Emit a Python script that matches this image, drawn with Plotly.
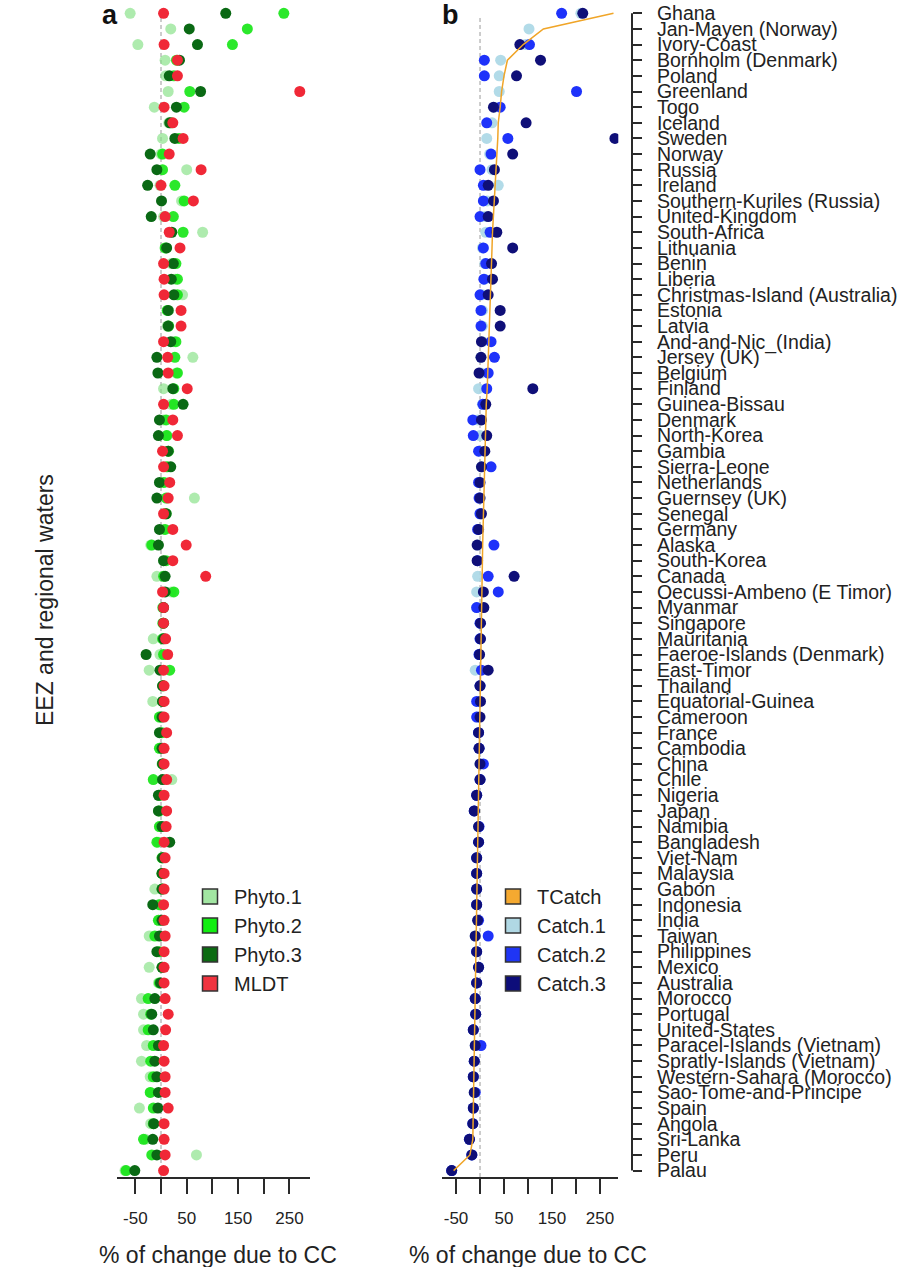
import plotly.graph_objects as go

# EEZ / regional waters, ordered by total catch change (top = largest)
countries = [
    "Ghana", "Jan-Mayen (Norway)", "Ivory-Coast", "Bornholm (Denmark)", "Poland",
    "Greenland", "Togo", "Iceland", "Sweden", "Norway", "Russia", "Ireland",
    "Southern-Kuriles (Russia)", "United-Kingdom", "South-Africa", "Lithuania",
    "Benin", "Liberia", "Christmas-Island (Australia)", "Estonia", "Latvia",
    "And-and-Nic_(India)", "Jersey (UK)", "Belgium", "Finland", "Guinea-Bissau",
    "Denmark", "North-Korea", "Gambia", "Sierra-Leone", "Netherlands",
    "Guernsey (UK)", "Senegal", "Germany", "Alaska", "South-Korea", "Canada",
    "Oecussi-Ambeno (E Timor)", "Myanmar", "Singapore", "Mauritania",
    "Faeroe-Islands (Denmark)", "East-Timor", "Thailand", "Equatorial-Guinea",
    "Cameroon", "France", "Cambodia", "China", "Chile", "Nigeria", "Japan",
    "Namibia", "Bangladesh", "Viet-Nam", "Malaysia", "Gabon", "Indonesia",
    "India", "Taiwan", "Philippines", "Mexico", "Australia", "Morocco",
    "Portugal", "United-States", "Paracel-Islands (Vietnam)",
    "Spratly-Islands (Vietnam)", "Western-Sahara (Morocco)",
    "Sao-Tome-and-Principe", "Spain", "Angola", "Sri-Lanka", "Peru", "Palau",
]

# Panel a: % change in phytoplankton production and mixed-layer depth
phyto1 = [-60, 19, -45, 8, 9, 14, -13, 15, 3, 0, 50, -2, 40, 5, 81, 10, 20, 28, 42, 15,
          12, 25, 62, 30, 5, 20, 5, 12, 15, 10, 8, 65, 8, 5, -20, 5, -8, 20, 3, 3,
          -15, -2, -23, 3, -16, -3, 0, -3, 2, 21, -3, -5, -3, -5, 2, 2, -12, -5, -5, -23,
          -5, -23, -5, -38, -34, -34, -28, -38, -21, -20, -42, -20, -30, 69, -70]
phyto2 = [239, 168, 139, 30, 25, 56, 45, 20, 35, 3, 3, 27, 45, 24, 43, 8, 29, 32, 32, 12,
          15, 29, 27, 32, 25, 25, 10, 11, 14, 12, 5, 10, 10, 8, -18, 10, 5, 25, 4, 4,
          3, 5, 17, 4, 3, -3, 2, -3, 3, -15, -3, -3, -3, -8, 2, 2, 2, -3, -5, -12,
          -3, 2, -3, -25, -20, -25, -15, -20, -15, -21, -15, -15, -34, -18, -68]
phyto3 = [126, 55, 71, 36, 16, 77, 30, 17, 27, -21, -8, -26, 1, -19, 21, 11, 24, 20, 25, 14,
          14, 19, -8, -6, 23, 43, -3, -5, 14, 19, -3, -8, 10, -3, -5, 5, 8, 8, 5, 5,
          5, -29, -2, 3, 3, 2, -3, 2, 3, 3, -5, -5, 2, 17, 3, 2, 2, -16, 2, -3,
          -8, 2, -1, -12, -18, -15, -5, -12, -8, -5, -6, -14, -16, -8, -51]
mldt = [5, None, 6, 32, 32, 270, 6, 23, 43, 16, 78, 0, 63, 8, 16, 37, 5, 6, 6, 39,
        39, 5, 13, 14, 51, 5, 23, 32, 3, 5, 17, 14, 5, 23, 49, 23, 87, 3, 5, 5,
        9, 13, 5, 6, 6, 6, 11, 6, 6, 11, 6, 11, 10, 6, 8, 6, 6, 5, 6, 8,
        6, 6, 6, 8, 14, 9, 5, 6, 8, 8, 14, 6, 6, 8, 5]

# Panel b: % change in catch (three scenarios) and total catch
catch1 = [210, 102, 95, 43, 40, 40, 30, 25, 14, 20, 25, 38, 15, 10, 12, 5, 10, 10, 5, 5,
          5, 5, 2, 2, -3, 5, -5, 0, 0, 3, -2, 0, 0, -3, -5, -5, -5, -7, -7, 0,
          0, -2, -10, 0, -5, -5, -3, -2, 0, 0, -7, -12, -3, -3, -7, -7, -7, -7, -5, -10,
          -7, -3, -7, -10, -9, -14, -10, -12, -14, -12, -14, -15, -22, -17, -59]
catch2 = [170, None, 103, 9, 9, 201, 42, 14, 58, 23, 0, 7, 7, 0, 21, 7, 12, 8, 0, 2,
          2, 23, 30, 17, 14, 6, -15, -14, -3, 23, -3, -2, 0, -5, 29, -5, 17, 38, -7, 0,
          0, -2, 3, 0, -7, -7, -3, -2, 7, 0, -7, -12, -2, -3, -7, -7, -7, -7, -3, 17,
          -7, -3, -7, -10, -9, -14, 2, -12, -14, -10, -14, -15, -22, -17, -59]
catch3 = [214, None, 83, 126, 76, None, 28, 96, 281, 68, 30, 17, 28, 17, 35, 68, 24, 26, 17, 42,
          42, 3, 2, -2, 110, 12, 3, 14, 10, 3, 0, 0, 3, -3, -6, -6, 71, 7, 8, 1,
          1, -1, 17, 0, 1, 0, -3, -2, 0, 0, -7, -12, -3, -3, -7, -7, -7, -7, -5, -10,
          -7, -3, -7, -10, -9, -14, -10, -12, -14, -12, -14, -15, -22, -17, -59]
tcatch = [278, 132, 90, 57, 50, 45, 42, 38, 37, 35, 33, 32, 30, 28, 26, 25, 24, 23, 22, 20,
          19, 18, 17, 16, 15, 13, 12, 11, 10, 9, 8, 7, 6.5, 6, 5.5, 5, 4.5, 4, 3.5, 3,
          2.5, 2, 1.5, 1, 0.5, 0, -0.5, -1, -1.5, -2, -2.5, -3, -3.5, -4, -4.5, -5, -5.5, -6, -6.5, -7,
          -7.5, -8, -8.5, -9, -9.5, -10, -10.5, -11, -11.5, -12, -13, -14, -15, -21, -55]

tick_vals = [-50, 0, 50, 100, 150, 200, 250]
tick_text = ["-50", "", "50", "", "150", "", "250"]

FONT = "Liberation Sans, Arial, Helvetica, sans-serif"
W, H = 914, 1267
n = len(countries)

col = {
    "Phyto.1": "rgba(130,225,130,0.65)",
    "Phyto.2": "rgba(20,230,20,0.9)",
    "Phyto.3": "rgb(10,105,20)",
    "MLDT": "rgb(240,40,55)",
    "TCatch": "rgb(240,165,40)",
    "Catch.1": "rgba(170,215,230,0.9)",
    "Catch.2": "rgb(30,50,250)",
    "Catch.3": "rgb(15,15,120)",
}
legend_fill = {
    "Phyto.1": "#a2e6a2", "Phyto.2": "#11ee11", "Phyto.3": "#0b6b12", "MLDT": "#f0333f",
    "TCatch": "#f5a930", "Catch.1": "#b0d8e4", "Catch.2": "#1f35f5", "Catch.3": "#0d0d7a",
}

fig = go.Figure()

# --- panel a: points
for name, vals in [("Phyto.1", phyto1), ("Phyto.2", phyto2), ("Phyto.3", phyto3), ("MLDT", mldt)]:
    fig.add_trace(go.Scatter(x=vals, y=countries, mode="markers", xaxis="x", yaxis="y",
                             marker=dict(size=11, color=col[name], line=dict(width=0)),
                             showlegend=False, hoverinfo="x+y", name=name))

# --- panel b: points and total-catch line
for name, vals in [("Catch.1", catch1), ("Catch.2", catch2), ("Catch.3", catch3)]:
    fig.add_trace(go.Scatter(x=vals, y=countries, mode="markers", xaxis="x2", yaxis="y",
                             marker=dict(size=11, color=col[name], line=dict(width=0)),
                             showlegend=False, hoverinfo="x+y", name=name))
fig.add_trace(go.Scatter(x=tcatch, y=countries, mode="lines", xaxis="x2", yaxis="y",
                         line=dict(color=col["TCatch"], width=1.5),
                         showlegend=False, name="TCatch"))

# --- legend entries (square keys)
for name in ["Phyto.1", "Phyto.2", "Phyto.3", "MLDT"]:
    fig.add_trace(go.Scatter(x=[None], y=[None], mode="markers", xaxis="x", yaxis="y",
                             marker=dict(symbol="square", size=15, color=legend_fill[name],
                                         line=dict(width=1.5, color="#333")),
                             name=name, legend="legend"))
for name in ["TCatch", "Catch.1", "Catch.2", "Catch.3"]:
    fig.add_trace(go.Scatter(x=[None], y=[None], mode="markers", xaxis="x2", yaxis="y",
                             marker=dict(symbol="square", size=15, color=legend_fill[name],
                                         line=dict(width=1.5, color="#333")),
                             name=name, legend="legend2"))

# geometry (pixels)
top_px, bot_px = 5, 1177
first_row_px, last_row_px = 13.3, 1170.6
row_h = (last_row_px - first_row_px) / (n - 1)
y_range = [n - 1 + (bot_px - last_row_px) / row_h, -(first_row_px - top_px) / row_h]

axis_common = dict(showline=True, linecolor="#2a2a2a", linewidth=1.5, ticks="outside",
                   ticklen=15, tickwidth=1.5, tickcolor="#2a2a2a", tickvals=tick_vals,
                   ticktext=tick_text, showgrid=False, zeroline=False,
                   tickfont=dict(size=17, color="#222", family=FONT),
                   ticklabelstandoff=10, anchor="y")

legend_common = dict(xanchor="left", yanchor="top", font=dict(size=20, family=FONT, color="#222"),
                     bgcolor="rgba(0,0,0,0)", tracegroupgap=0, itemsizing="trace", itemwidth=38)

fig.update_layout(
    width=W, height=H,
    margin=dict(l=0, r=0, t=top_px, b=H - bot_px, autoexpand=False),
    paper_bgcolor="white", plot_bgcolor="white",
    font=dict(family=FONT, color="#222"),
    xaxis=dict(domain=[117 / W, 310 / W], range=[-85.6, 289.9], **axis_common),
    xaxis2=dict(domain=[441.7 / W, 618.3 / W], range=[-79.8, 288], **axis_common),
    yaxis=dict(type="category", categoryorder="array", categoryarray=countries,
               tickmode="array", tickvals=countries, ticktext=countries,
               range=y_range, side="right", anchor="free", position=632 / W,
               showline=False, ticks="outside", ticklen=9, tickwidth=1.5,
               tickcolor="#2a2a2a", showgrid=False, zeroline=False,
               tickfont=dict(size=19.5, color="#222", family=FONT),
               ticklabelstandoff=11, automargin=False),
    legend=dict(x=186 / W, y=(bot_px - 877) / (bot_px - top_px), **legend_common),
    legend2=dict(x=489 / W, y=(bot_px - 877) / (bot_px - top_px), **legend_common),
    showlegend=True,
)

# y axis line from first to last category, dashed zero references
shapes = [dict(type="line", xref="paper", yref="y", x0=632 / W, x1=632 / W,
               y0=countries[0], y1=countries[-1], line=dict(color="#2a2a2a", width=2))]
for xr in ["x", "x2"]:
    shapes.append(dict(type="line", xref=xr, yref="y", x0=0, x1=0, y0=0.3, y1=y_range[0],
                       line=dict(color="#9a9a9a", width=1, dash="4px,3px"), layer="below"))
fig.update_layout(shapes=shapes)

# titles and panel letters
annots = [
    dict(text="% of change due to CC", x=218 / W, y=-(1255 - bot_px) / (bot_px - top_px),
         xref="paper", yref="paper", showarrow=False, font=dict(size=23, family=FONT, color="#222"),
         xanchor="center", yanchor="middle"),
    dict(text="% of change due to CC", x=528 / W, y=-(1255 - bot_px) / (bot_px - top_px),
         xref="paper", yref="paper", showarrow=False, font=dict(size=23, family=FONT, color="#222"),
         xanchor="center", yanchor="middle"),
    dict(text="EEZ and regional waters", x=45 / W, y=(bot_px - 600) / (bot_px - top_px),
         xref="paper", yref="paper", showarrow=False, textangle=-90,
         font=dict(size=23, family=FONT, color="#222"), xanchor="center", yanchor="middle"),
    dict(text="<b>a</b>", x=110 / W, y=(bot_px - 15) / (bot_px - top_px), xref="paper", yref="paper",
         showarrow=False, font=dict(size=27, family=FONT, color="#111"), xanchor="center", yanchor="middle"),
    dict(text="<b>b</b>", x=450 / W, y=(bot_px - 15) / (bot_px - top_px), xref="paper", yref="paper",
         showarrow=False, font=dict(size=27, family=FONT, color="#111"), xanchor="center", yanchor="middle"),
]
fig.update_layout(annotations=annots)

fig.write_html("out.html")
